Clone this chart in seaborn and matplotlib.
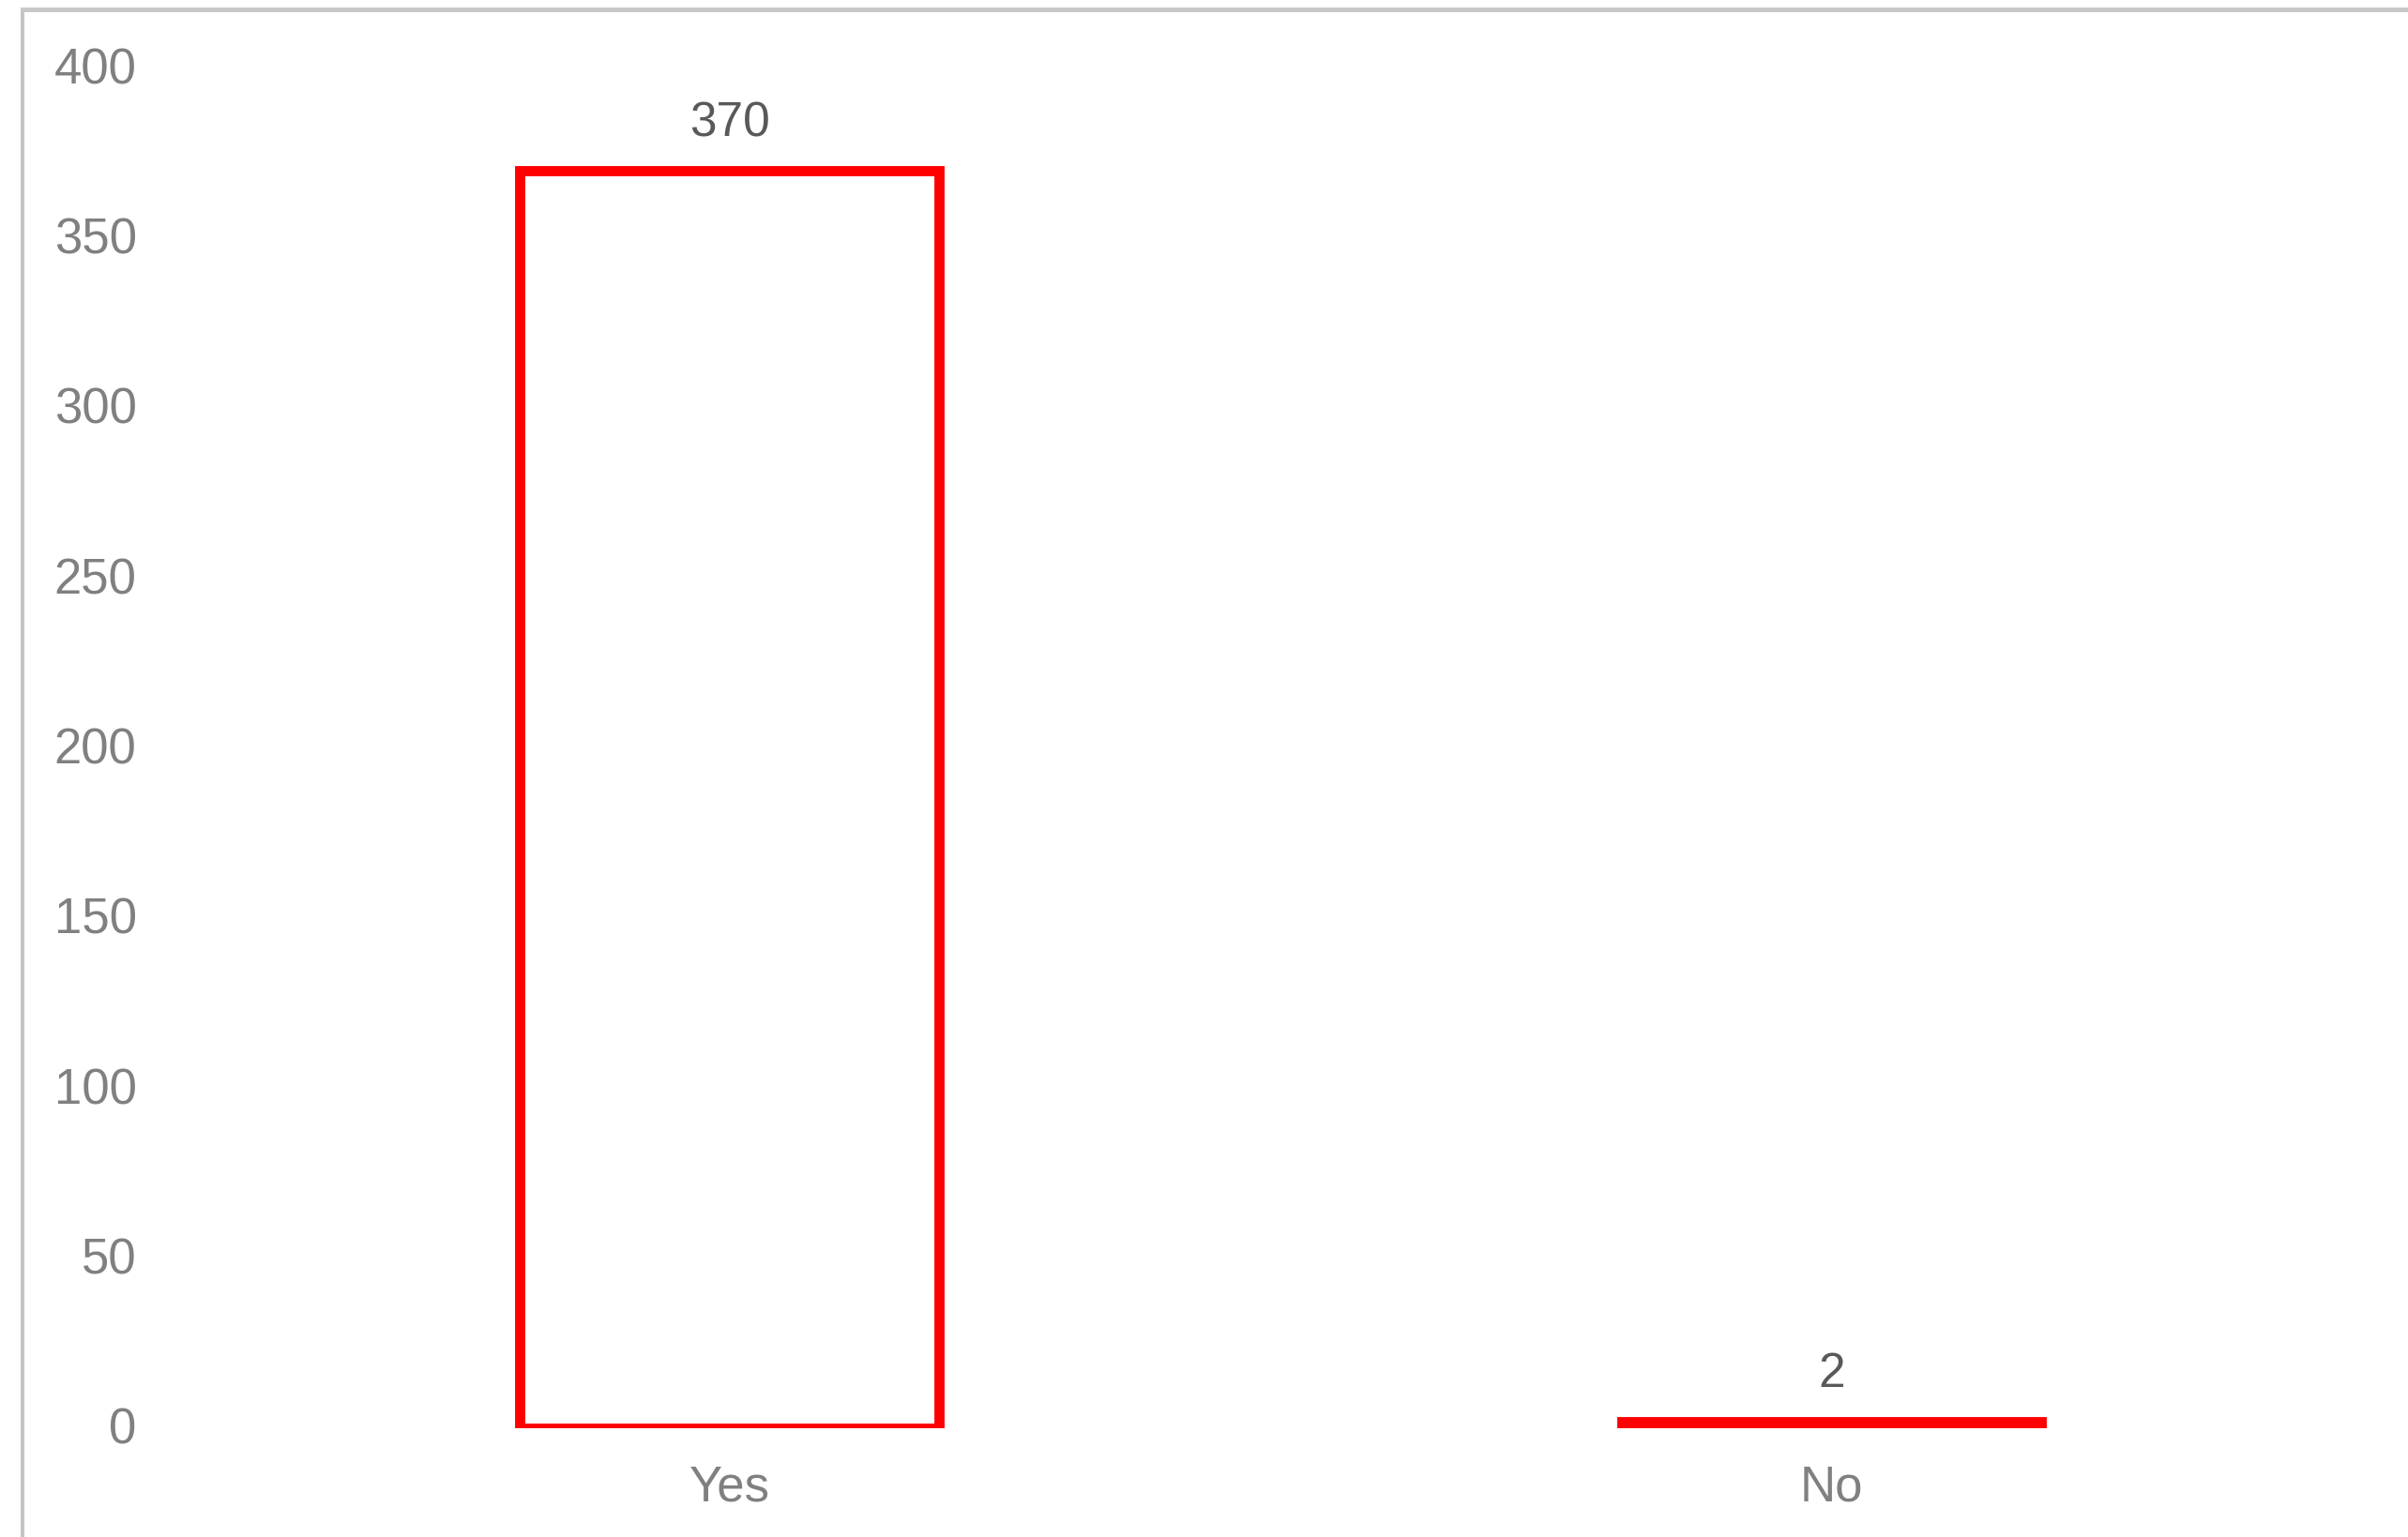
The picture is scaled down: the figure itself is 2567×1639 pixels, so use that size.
import matplotlib
matplotlib.use("Agg")
import matplotlib.pyplot as plt
import seaborn as sns
from matplotlib.patches import Rectangle
from matplotlib.transforms import ScaledTranslation

categories = ["Yes", "No"]
values = [370, 2]
yticks = [0, 50, 100, 150, 200, 250, 300, 350, 400]

sns.set_theme(style="white")
plt.rcParams['font.family'] = ['Liberation Sans', 'DejaVu Sans']

W, H = 2567, 1640
fig = plt.figure(figsize=(W / 100, H / 100), dpi=100)
fig.patch.set_facecolor("white")
ax = fig.add_axes([190 / W, 1 - 1524 / H, (2540 - 190) / W, (1524 - 74) / H])

sns.barplot(x=categories, y=values, ax=ax, width=0.38, color="white",
            edgecolor="#FF0000", linewidth=7.8, saturation=1)

ax.set_xlim(-0.5, 1.5)
ax.set_ylim(0, 400)
ax.set_yticks(yticks)
ax.set_yticklabels([str(v) for v in yticks])
ax.set_xlabel("")
ax.set_ylabel("")
for s in ax.spines.values():
    s.set_visible(False)
ax.grid(False)
ax.tick_params(axis="y", length=0, pad=32, labelsize=38, labelcolor="#808080")
ax.tick_params(axis="x", length=0, pad=27, labelsize=38, labelcolor="#808080")

shift = ScaledTranslation(0, 4 / 100, fig.dpi_scale_trans)
for lab in ax.get_yticklabels():
    lab.set_transform(lab.get_transform() + shift)

for c in ax.containers:
    ax.bar_label(c, labels=[str(v) for v in values], padding=19,
                 fontsize=37, color="#595959")

# outer frame (screenshot border) on left and top
fig.patches.append(Rectangle((22 / W, 0), 4 / W, 1 - 10 / H, transform=fig.transFigure,
                             facecolor="#c4c4c4", edgecolor="none", zorder=5))
fig.patches.append(Rectangle((22 / W, 1 - 14 / H), 1 - 22 / W, 5 / H, transform=fig.transFigure,
                             facecolor="#c8c8c8", edgecolor="none", zorder=5))

fig.savefig("out.png", dpi=100, facecolor="white")
